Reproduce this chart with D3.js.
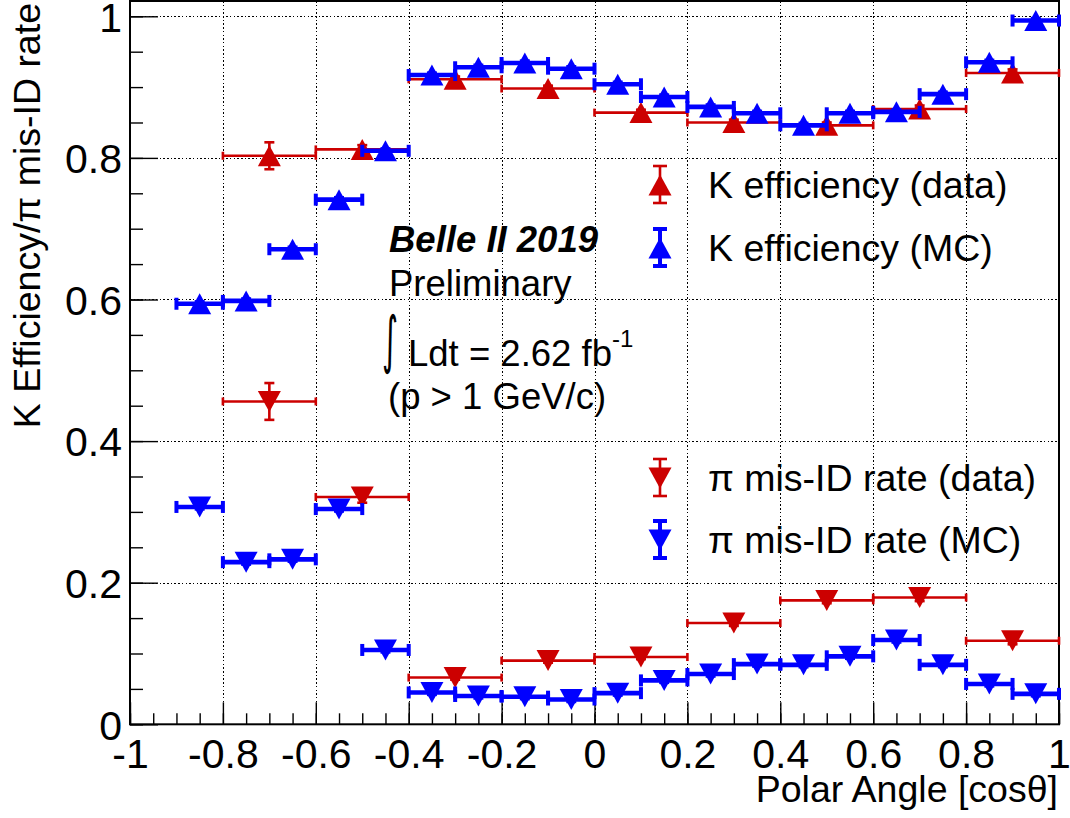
<!DOCTYPE html>
<html>
<head>
<meta charset="utf-8">
<script src="https://cdn.jsdelivr.net/npm/d3@7"></script>
<style>
  body { margin: 0; background: #fff; }
  svg { display: block; font-family: "Liberation Sans", Arial, Helvetica, sans-serif; }
</style>
</head>
<body>
<svg id="chart"></svg>
<script>
// bin centres (data: 0.2 wide bins, MC: 0.1 wide bins)
const dataBins = [-0.7, -0.5, -0.3, -0.1, 0.1, 0.3, 0.5, 0.7, 0.9];
const mcBins = [-0.85, -0.75, -0.65, -0.55, -0.45, -0.35, -0.25, -0.15, -0.05,
                0.05, 0.15, 0.25, 0.35, 0.45, 0.55, 0.65, 0.75, 0.85, 0.95];

const kEffData    = [0.803, 0.812, 0.911, 0.898, 0.864, 0.850, 0.846, 0.869, 0.920];
const kEffDataErr = [0.019, 0.006, 0.004, 0.004, 0.004, 0.004, 0.004, 0.005, 0.005];
const piMisData    = [0.456, 0.321, 0.066, 0.090, 0.095, 0.143, 0.175, 0.179, 0.118];
const piMisDataErr = [0.026, 0.008, 0.003, 0.003, 0.003, 0.004, 0.004, 0.005, 0.005];

const kEffMC  = [0.594, 0.598, 0.671, 0.741, 0.810, 0.917, 0.928, 0.934, 0.926, 0.904,
                 0.886, 0.872, 0.863, 0.846, 0.863, 0.865, 0.890, 0.935, 0.994];
const piMisMC = [0.307, 0.229, 0.233, 0.304, 0.105, 0.045, 0.040, 0.039, 0.035, 0.044,
                 0.062, 0.071, 0.085, 0.084, 0.096, 0.119, 0.084, 0.057, 0.043];
const mcErr = 0.002;

const xMajor = [-1, -0.8, -0.6, -0.4, -0.2, 0, 0.2, 0.4, 0.6, 0.8, 1];
const yMajor = [0, 0.2, 0.4, 0.6, 0.8, 1];

const legendItems = [
    { label: "K efficiency (data)", color: "#cc0000", dir: "up" },
    { label: "K efficiency (MC)", color: "#0000ff", dir: "up" },
    { label: "\u03c0 mis-ID rate (data)", color: "#cc0000", dir: "down" },
    { label: "\u03c0 mis-ID rate (MC)", color: "#0000ff", dir: "down" }
];

const RED = "#cc0000", BLUE = "#0000ff";
const width = 1070, height = 818;
const svg = d3.select("#chart").attr("width", width).attr("height", height);

svg.append("rect").attr("width", width).attr("height", height).attr("fill", "white");

const x = d3.scaleLinear().domain([-1, 1]).range([130, 1059]);
const y = d3.scaleLinear().domain([0, 1.0216]).range([724.3, 1]);
const px = v => Math.round(v) + 0.5;

// dotted grid
const grid = svg.append("g")
    .attr("stroke", "#000")
    .attr("stroke-width", 1)
    .attr("shape-rendering", "crispEdges")
    .attr("stroke-dasharray", "1.5,2.2");
grid.selectAll(".gx")
    .data(xMajor.filter(d => d > -1 && d < 1))
    .enter().append("line")
    .attr("x1", d => px(x(d))).attr("x2", d => px(x(d)))
    .attr("y1", y.range()[0]).attr("y2", y.range()[1]);
grid.selectAll(".gy")
    .data(yMajor.filter(d => d > 0))
    .enter().append("line")
    .attr("x1", x.range()[0]).attr("x2", x.range()[1])
    .attr("y1", d => px(y(d))).attr("y2", d => px(y(d)));

// axes (ROOT style, ticks pointing inward)
const fmt = d => d === 0 ? "0" : (d < 0 ? "-" + d3.format("")(Math.abs(d)) : d3.format("")(d));

svg.append("g")
    .attr("transform", `translate(0,${y(0)})`)
    .call(d3.axisBottom(x).tickValues(xMajor).tickSizeInner(-22).tickSizeOuter(0)
        .tickPadding(15).tickFormat(fmt));
svg.append("g")
    .attr("transform", `translate(0,${y(0)})`)
    .call(d3.axisBottom(x).tickValues(d3.range(-20, 21).map(i => i * 0.05)).tickSizeInner(-11)
        .tickSizeOuter(0).tickFormat(""));

const yAxis = svg.append("g")
    .attr("transform", `translate(${x(-1)},0)`)
    .call(d3.axisLeft(y).tickValues(yMajor).tickSizeInner(-28).tickSizeOuter(0)
        .tickPadding(8).tickFormat(fmt));
svg.append("g")
    .attr("transform", `translate(${x(-1)},0)`)
    .call(d3.axisLeft(y).tickValues(d3.range(0, 21).map(i => i * 0.05)).tickSizeInner(-13)
        .tickSizeOuter(0).tickFormat(""));

svg.selectAll(".domain").remove();
svg.selectAll(".tick line").attr("stroke", "#000").attr("stroke-width", 1.4);
svg.selectAll(".tick text")
    .attr("fill", "#000")
    .attr("font-size", 41)
    .attr("font-family", "Liberation Sans, Arial, sans-serif");
yAxis.selectAll(".tick text").attr("dy", "0.36em");

// frame
svg.append("rect")
    .attr("x", x.range()[0]).attr("y", y.range()[1])
    .attr("width", x.range()[1] - x.range()[0])
    .attr("height", y.range()[0] - y.range()[1])
    .attr("fill", "none").attr("stroke", "#000").attr("stroke-width", 2);

// marker triangles
function tri(cx, cy, dir, w = 23, h = 21) {
    if (dir === "up")
        return `M${cx},${cy - h / 2}L${cx - w / 2},${cy + h / 2}L${cx + w / 2},${cy + h / 2}Z`;
    return `M${cx - w / 2},${cy - h / 2}L${cx + w / 2},${cy - h / 2}L${cx},${cy + h / 2}Z`;
}

function drawSeries(centers, vals, errs, halfW, style) {
    const pts = centers.map((c, i) => ({ c, v: vals[i], e: errs[i] }));
    const g = svg.append("g");
    // x error bars
    g.selectAll(".xe").data(pts).enter().append("line")
        .attr("x1", d => x(d.c - halfW)).attr("x2", d => x(d.c + halfW))
        .attr("y1", d => y(d.v)).attr("y2", d => y(d.v))
        .attr("stroke", style.color).attr("stroke-width", style.lw);
    // end caps of x error
    pts.forEach(d => {
        [d.c - halfW, d.c + halfW].forEach(e => {
            g.append("rect")
                .attr("x", x(e) - style.capW / 2).attr("y", y(d.v) - style.capH / 2)
                .attr("width", style.capW).attr("height", style.capH)
                .attr("fill", style.color);
        });
    });
    // y error bars
    g.selectAll(".ye").data(pts).enter().append("line")
        .attr("x1", d => x(d.c)).attr("x2", d => x(d.c))
        .attr("y1", d => y(d.v - d.e)).attr("y2", d => y(d.v + d.e))
        .attr("stroke", style.color).attr("stroke-width", style.lw);
    pts.forEach(d => {
        [d.v - d.e, d.v + d.e].forEach(e => {
            g.append("line")
                .attr("x1", x(d.c) - 5).attr("x2", x(d.c) + 5)
                .attr("y1", y(e)).attr("y2", y(e))
                .attr("stroke", style.color).attr("stroke-width", style.lw);
        });
    });
    g.selectAll(".mk").data(pts).enter().append("path")
        .attr("d", d => tri(x(d.c), y(d.v), style.dir))
        .attr("fill", style.color);
}

const redStyle = { color: RED, lw: 2.6, capW: 2.6, capH: 8 };
const blueStyle = { color: BLUE, lw: 4.6, capW: 4, capH: 12 };

drawSeries(dataBins, kEffData, kEffDataErr, 0.1, { ...redStyle, dir: "up" });
drawSeries(dataBins, piMisData, piMisDataErr, 0.1, { ...redStyle, dir: "down" });
drawSeries(mcBins, kEffMC, mcBins.map(() => mcErr), 0.05, { ...blueStyle, dir: "up" });
drawSeries(mcBins, piMisMC, mcBins.map(() => mcErr), 0.05, { ...blueStyle, dir: "down" });

// legends
const legendY = [185, 248, 478, 540];
legendItems.forEach((d, i) => {
    const cy = legendY[i], cx = 660;
    const lw = d.color === RED ? 2.6 : 4;
    const g = svg.append("g");
    g.append("line").attr("x1", cx).attr("x2", cx).attr("y1", cy - 19).attr("y2", cy + 18)
        .attr("stroke", d.color).attr("stroke-width", lw);
    [cy - 19, cy + 18].forEach(yy => {
        g.append("line").attr("x1", cx - 7).attr("x2", cx + 7).attr("y1", yy).attr("y2", yy)
            .attr("stroke", d.color).attr("stroke-width", lw);
    });
    g.append("path").attr("d", tri(cx, cy, d.dir)).attr("fill", d.color);
    g.append("text").attr("x", 708).attr("y", cy + 13)
        .attr("font-size", 37.5).attr("fill", "#000").text(d.label);
});

// Belle II text block
const info = svg.append("g").attr("fill", "#000");
info.append("text").attr("x", 389).attr("y", 252)
    .attr("font-size", 36.5).attr("font-weight", "bold").attr("font-style", "italic")
    .text("Belle II 2019");
info.append("text").attr("x", 389).attr("y", 296).attr("font-size", 36.5).text("Preliminary");
info.append("text")
    .attr("transform", "translate(382,361) scale(0.7,1.42)")
    .attr("font-size", 44).attr("font-family", "DejaVu Sans")
    .text("\u222b");
const lum = info.append("text").attr("x", 408).attr("y", 366).attr("font-size", 36.5);
lum.append("tspan").text("Ldt = 2.62 fb");
lum.append("tspan").attr("dy", -19).attr("font-size", 24).text("-1");
info.append("text").attr("x", 388).attr("y", 409).attr("font-size", 36.5).text("(p > 1 GeV/c)");

// axis titles
svg.append("text")
    .attr("x", 1058).attr("y", 802)
    .attr("text-anchor", "end").attr("font-size", 37.5)
    .text("Polar Angle [cos\u03b8]");
svg.append("text")
    .attr("transform", "translate(40,3) rotate(-90)")
    .attr("text-anchor", "end").attr("font-size", 37.5)
    .text("K Efficiency/\u03c0 mis-ID rate");
</script>
</body>
</html>
